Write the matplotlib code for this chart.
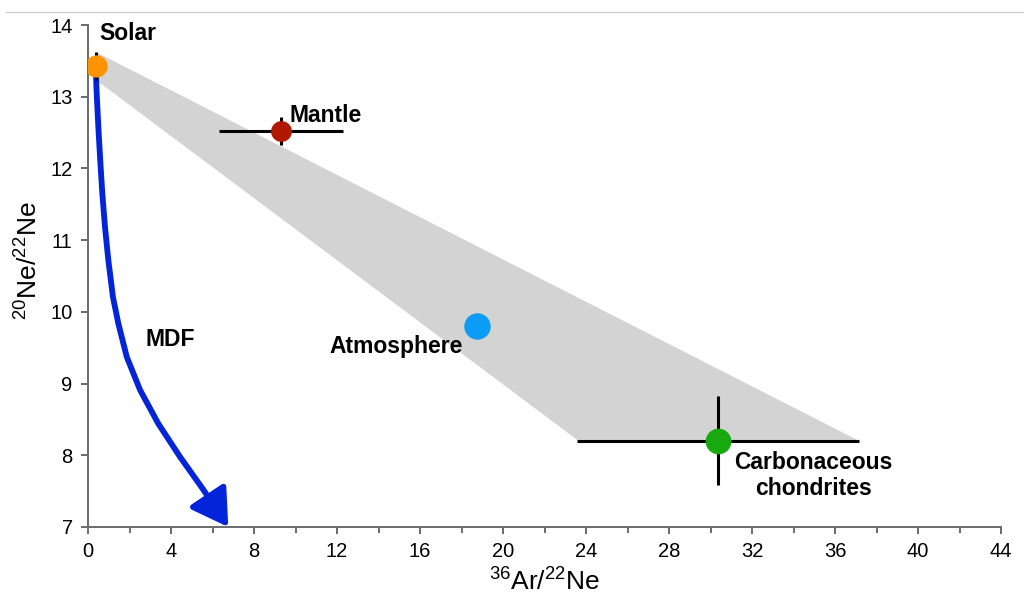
import matplotlib
matplotlib.use("Agg")
import matplotlib.pyplot as plt
from matplotlib.patches import Polygon, FancyArrowPatch
from matplotlib.path import Path
from matplotlib.lines import Line2D

plt.rcParams['font.family'] = ['Liberation Sans', 'DejaVu Sans']
plt.rcParams['mathtext.fontset'] = 'custom'
plt.rcParams['mathtext.rm'] = 'Liberation Sans'

# ---- data ----
names = ["Solar", "Mantle", "Atmosphere", "Carbonaceous\nchondrites"]
ar_ne = [0.38, 9.3, 18.75, 30.36]
ne_ne = [13.43, 12.52, 9.80, 8.20]
x_err = [0.0, 3.0, 0.0, 6.8]
y_err = [0.2, 0.2, 0.0, 0.62]
colors = ["#FF9300", "#B01800", "#0C9CF6", "#17A90E"]
sizes = [16, 15, 19, 18.5]

band_x = [0.4, 37.1, 23.6, 0.4]
band_y = [13.62, 8.21, 8.21, 13.23]

mdf_x = [0.37, 0.42, 0.50, 0.59, 0.69, 0.82, 0.98, 1.20, 1.46, 1.87, 2.51, 3.39, 4.43, 5.56, 6.76]
mdf_y = [13.41, 13.04, 12.57, 12.11, 11.65, 11.18, 10.72, 10.21, 9.84, 9.37, 8.91, 8.44, 7.98, 7.52, 7.00]

x_ticks = list(range(0, 45, 4))
y_ticks = list(range(7, 15))

fig = plt.figure(figsize=(10.24, 6.04), dpi=100)
ax = fig.add_axes([88/1024, 77/604, 913/1024, 502/604])

# thin line at top of figure
fig.add_artist(Line2D([6/1024, 1.0], [1-12/604, 1-12/604], color="#cfcfcf", lw=1))

# shaded band
ax.add_patch(Polygon(list(zip(band_x, band_y)), closed=True, facecolor="#D3D3D3",
                     edgecolor="none", zorder=1))

# MDF arrow
verts = list(zip(mdf_x, mdf_y))
codes = [Path.MOVETO] + [Path.LINETO] * (len(verts) - 1)
arrow = FancyArrowPatch(path=Path(verts, codes),
                        arrowstyle="-|>,head_length=1.0,head_width=0.6",
                        mutation_scale=22, color="#0424DA", lw=4.2,
                        joinstyle="round", capstyle="round", zorder=3)
ax.add_patch(arrow)

# error bars and points
for x, y, xe, ye, c, s in zip(ar_ne, ne_ne, x_err, y_err, colors, sizes):
    if xe > 0:
        ax.plot([x - xe, x + xe], [y, y], color="black", lw=2.2, zorder=4, solid_capstyle="butt")
    if ye > 0:
        ax.plot([x, x], [y - ye, y + ye], color="black", lw=2.2, zorder=4, solid_capstyle="butt")
    ax.plot([x], [y], "o", color=c, markersize=s, markeredgewidth=0, zorder=5)

# labels
lab_kw = dict(fontsize=16.5, fontweight="bold", color="black", zorder=6)
ax.text(0.55, 13.88, "Solar", ha="left", va="center", **lab_kw)
ax.text(9.7, 12.74, "Mantle", ha="left", va="center", **lab_kw)
ax.text(18.07, 9.51, "Atmosphere", ha="right", va="center", **lab_kw)
ax.text(2.75, 9.62, "MDF", ha="left", va="center", **lab_kw)
ax.text(34.96, 7.72, "Carbonaceous\nchondrites", ha="center", va="center",
        multialignment="center", linespacing=1.2, **lab_kw)

ax.set_xlim(0, 44)
ax.set_ylim(7, 14)
ax.set_xticks(x_ticks)
ax.set_xticks(list(range(2, 44, 4)), minor=True)
ax.set_yticks(y_ticks)

for sp in ["top", "right"]:
    ax.spines[sp].set_visible(False)
for sp in ["left", "bottom"]:
    ax.spines[sp].set_color("#6a6a6a")
    ax.spines[sp].set_linewidth(1.4)

ax.tick_params(which="both", direction="out", color="#6a6a6a", width=1.4, labelsize=14.5,
               labelcolor="black")
ax.tick_params(which="major", length=5)
ax.tick_params(which="minor", length=4)
ax.tick_params(axis="x", pad=6)
ax.tick_params(axis="y", pad=6)

ax.set_xlabel(r"$\mathregular{^{36}Ar/^{22}Ne}$", fontsize=19, labelpad=5)
ax.set_ylabel(r"$\mathregular{^{20}Ne/^{22}Ne}$", fontsize=19, labelpad=5)
ax.yaxis.set_label_coords(-0.05, 0.53)

fig.savefig("out.png", dpi=100)
